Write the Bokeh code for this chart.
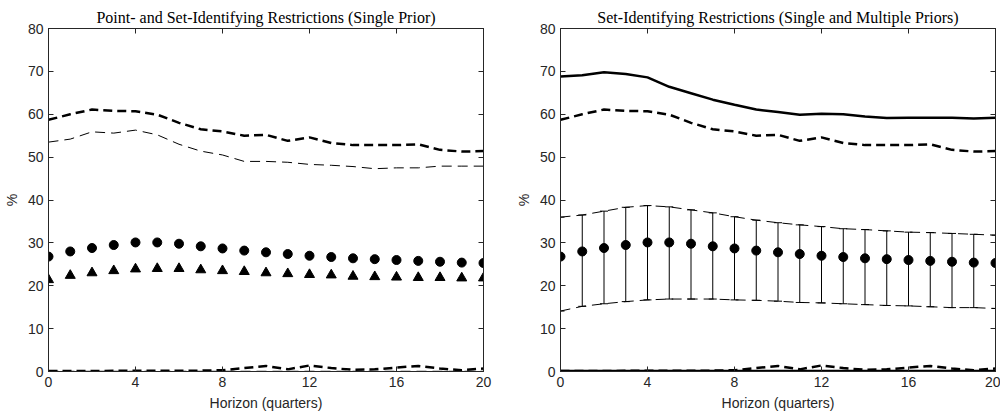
from bokeh.plotting import figure
from bokeh.layouts import row
from bokeh.models import (Range1d, LinearAxis, FixedTicker, ColumnDataSource,
                          Whisker, TeeHead, CustomLabelingPolicy)
from bokeh.embed import file_html
from bokeh.resources import INLINE

# ---------------- data ----------------
horizon = list(range(21))
x_ticks = [0, 4, 8, 12, 16, 20]
y_ticks = [0, 10, 20, 30, 40, 50, 60, 70, 80]

single_prior_thick_dashed = [58.7, 60.0, 61.1, 60.8, 60.7, 59.9, 58.0, 56.5, 56.0, 55.0, 55.2,
                             53.8, 54.6, 53.3, 52.8, 52.8, 52.8, 53.0, 51.7, 51.3, 51.4]
point_thin_dashed = [53.5, 54.2, 55.9, 55.6, 56.3, 55.2, 53.0, 51.4, 50.5, 49.0, 49.0,
                     48.8, 48.3, 48.1, 47.8, 47.3, 47.5, 47.5, 47.9, 47.9, 47.9]
single_prior_circles = [26.8, 28.0, 28.8, 29.5, 30.1, 30.1, 29.8, 29.2, 28.7, 28.2, 27.8,
                        27.4, 27.0, 26.7, 26.4, 26.2, 26.0, 25.8, 25.6, 25.4, 25.3]
point_triangles = [21.4, 22.4, 23.0, 23.5, 23.9, 24.0, 24.0, 23.7, 23.5, 23.3, 23.0,
                   22.8, 22.6, 22.5, 22.2, 22.1, 22.0, 21.9, 21.9, 21.8, 21.8]
near_zero_thick_dashed = [0.1, 0.1, 0.1, 0.15, 0.2, 0.2, 0.2, 0.2, 0.3, 0.8, 1.3,
                          0.5, 1.4, 0.8, 0.4, 0.5, 0.9, 1.3, 0.7, 0.3, 0.7]
near_zero_thin_dashed = [0.05, 0.05, 0.05, 0.05, 0.05, 0.05, 0.05, 0.05, 0.05, 0.05, 0.05,
                         0.05, 0.05, 0.05, 0.05, 0.05, 0.05, 0.05, 0.05, 0.05, 0.05]
multiple_priors_solid = [68.8, 69.1, 69.8, 69.4, 68.6, 66.4, 64.9, 63.4, 62.2, 61.1, 60.5,
                         59.9, 60.1, 60.0, 59.5, 59.1, 59.2, 59.2, 59.2, 59.0, 59.2]
near_zero_solid = [0.1, 0.1, 0.1, 0.1, 0.1, 0.1, 0.1, 0.1, 0.1, 0.1, 0.1,
                   0.1, 0.1, 0.1, 0.1, 0.1, 0.1, 0.1, 0.1, 0.1, 0.1]
band_upper = [36.0, 36.5, 37.4, 38.3, 38.7, 38.4, 37.7, 37.0, 36.1, 35.3, 34.7,
              34.2, 33.8, 33.3, 33.1, 32.8, 32.5, 32.4, 32.2, 32.0, 31.8]
band_lower = [14.1, 15.2, 15.8, 16.3, 16.7, 16.9, 16.9, 16.9, 16.7, 16.6, 16.4,
              16.1, 16.0, 15.8, 15.6, 15.4, 15.3, 15.1, 14.9, 14.9, 14.7]

title_left = "Point- and Set-Identifying Restrictions (Single Prior)"
title_right = "Set-Identifying Restrictions (Single and Multiple Priors)"
x_label = "Horizon (quarters)"
y_label = "%"

AX = "#262626"
SANS = "Liberation Sans"
SERIF = "Liberation Serif"

NO_LABELS = """
for (const i of indices) {
    indices.unset(i)
}
return indices
"""


def make_fig(title, border_left, border_right):
    p = figure(frame_width=435, frame_height=343,
               min_border_left=border_left, min_border_right=border_right,
               min_border_top=28, min_border_bottom=44,
               x_range=Range1d(0, 20), y_range=Range1d(0, 80),
               output_backend="svg", toolbar_location=None, title=title)
    p.title.text_font = SERIF
    p.title.text_font_size = "16px"
    p.title.text_font_style = "normal"
    p.title.align = "center"
    p.title.text_color = "black"
    p.title.standoff = 5
    p.grid.visible = False
    p.outline_line_color = AX
    p.outline_line_width = 1
    p.outline_line_alpha = 1
    p.background_fill_color = "white"
    p.border_fill_color = "white"

    for ax, ticks in ((p.xaxis[0], x_ticks), (p.yaxis[0], y_ticks)):
        ax.ticker = FixedTicker(ticks=ticks)
        ax.major_tick_in = 5
        ax.major_tick_out = 0
        ax.minor_tick_line_color = None
        ax.axis_line_color = AX
        ax.major_tick_line_color = AX
        ax.major_label_text_color = AX
        ax.major_label_text_font = SANS
        ax.major_label_text_font_size = "14px"
        ax.axis_label_text_font = SANS
        ax.axis_label_text_font_size = "14px"
        ax.axis_label_text_font_style = "normal"
        ax.axis_label_text_color = AX
        ax.major_label_standoff = 5
        ax.axis_label_standoff = 5
    p.xaxis[0].axis_label = x_label
    p.yaxis[0].axis_label = y_label

    top = LinearAxis(ticker=FixedTicker(ticks=x_ticks))
    right = LinearAxis(ticker=FixedTicker(ticks=y_ticks))
    for ax in (top, right):
        ax.major_tick_in = 5
        ax.major_tick_out = 0
        ax.minor_tick_line_color = None
        ax.axis_line_color = AX
        ax.major_tick_line_color = AX
        ax.major_label_policy = CustomLabelingPolicy(code=NO_LABELS)
        ax.major_label_text_font_size = "0px"
        ax.major_label_standoff = 0
    p.add_layout(top, "above")
    p.add_layout(right, "right")
    return p


# ---------------- left panel ----------------
p1 = make_fig(title_left, 48, 17)
p1.line(horizon, near_zero_thin_dashed, line_color="black", line_width=1, line_dash="10 6")
p1.line(horizon, near_zero_thick_dashed, line_color="black", line_width=2.5, line_dash="9 5")
p1.line(horizon, single_prior_thick_dashed, line_color="black", line_width=2.5, line_dash="9 5")
p1.line(horizon, point_thin_dashed, line_color="black", line_width=1, line_dash="10 6")
p1.scatter(horizon, single_prior_circles, marker="circle", size=9,
           fill_color="black", line_color="black")
p1.scatter(horizon, point_triangles, marker="triangle", size=10,
           fill_color="black", line_color="black")

# ---------------- right panel ----------------
p2 = make_fig(title_right, 60, 5)
src = ColumnDataSource(dict(x=horizon, upper=band_upper, lower=band_lower))
p2.line(horizon, near_zero_solid, line_color="black", line_width=2.5)
p2.line(horizon, near_zero_thick_dashed, line_color="black", line_width=2.5, line_dash="9 5")
p2.line(horizon, multiple_priors_solid, line_color="black", line_width=2.5)
p2.line(horizon, single_prior_thick_dashed, line_color="black", line_width=2.5, line_dash="9 5")
p2.line(horizon, band_upper, line_color="black", line_width=1, line_dash="10 6")
p2.line(horizon, band_lower, line_color="black", line_width=1, line_dash="10 6")
wh = Whisker(source=src, base="x", upper="upper", lower="lower",
             line_color="black", line_width=1,
             upper_head=TeeHead(size=8, line_color="black", line_width=1),
             lower_head=TeeHead(size=8, line_color="black", line_width=1))
p2.add_layout(wh)
p2.scatter(horizon, single_prior_circles, marker="circle", size=9,
           fill_color="black", line_color="black")

layout = row(p1, p2, spacing=0)
open("out.html", "w").write(file_html(layout, INLINE))
